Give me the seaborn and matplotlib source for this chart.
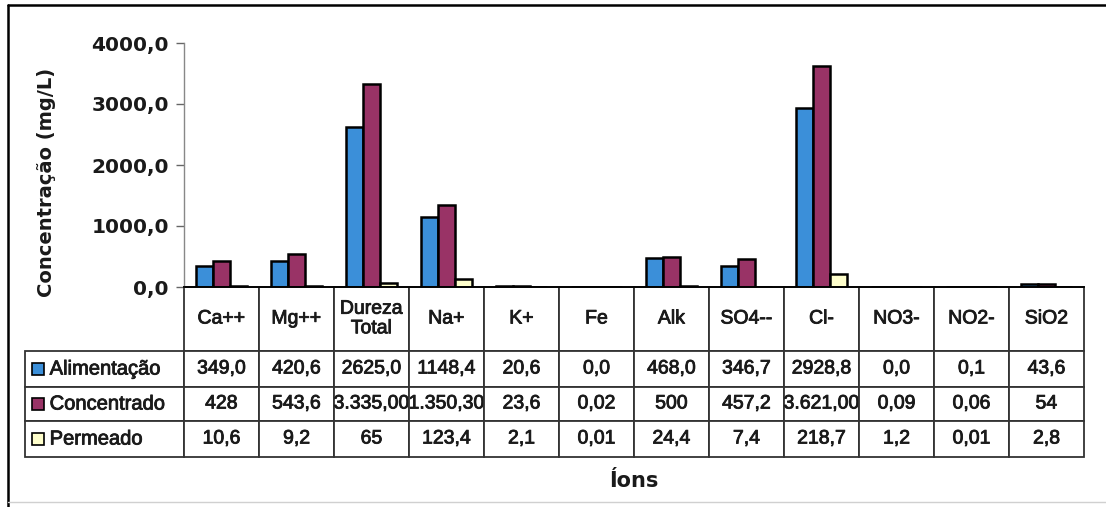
import matplotlib
matplotlib.use("Agg")
import matplotlib.pyplot as plt
import matplotlib.patheffects as pe
import seaborn as sns
import pandas as pd
from matplotlib.table import Table
from matplotlib.patches import Rectangle
from matplotlib.lines import Line2D

# ---------------- data ----------------
categories = ["Ca++", "Mg++", "Dureza\nTotal", "Na+", "K+", "Fe", "Alk",
              "SO4--", "Cl-", "NO3-", "NO2-", "SiO2"]
series = ["Alimentação", "Concentrado", "Permeado"]

alimentacao = [349.0, 420.6, 2625.0, 1148.4, 20.6, 0.0, 468.0, 346.7, 2928.8, 0.0, 0.1, 43.6]
concentrado = [428.0, 543.6, 3335.0, 1350.3, 23.6, 0.02, 500.0, 457.2, 3621.0, 0.09, 0.06, 54.0]
permeado = [10.6, 9.2, 65.0, 123.4, 2.1, 0.01, 24.4, 7.4, 218.7, 1.2, 0.01, 2.8]

alimentacao_txt = ["349,0", "420,6", "2625,0", "1148,4", "20,6", "0,0", "468,0",
                   "346,7", "2928,8", "0,0", "0,1", "43,6"]
concentrado_txt = ["428", "543,6", "3.335,00", "1.350,30", "23,6", "0,02", "500",
                   "457,2", "3.621,00", "0,09", "0,06", "54"]
permeado_txt = ["10,6", "9,2", "65", "123,4", "2,1", "0,01", "24,4", "7,4",
                "218,7", "1,2", "0,01", "2,8"]

yticks = [0, 1000, 2000, 3000, 4000]
ytick_labels = ["0,0", "1000,0", "2000,0", "3000,0", "4000,0"]

colors = ["#3B8FD9", "#993366", "#FFFFCC"]

# ---------------- figure ----------------
sns.set_theme(style="white")
plt.rcParams["font.family"] = ["DejaVu Sans"]

W, H = 1106, 507
fig = plt.figure(figsize=(W / 100, H / 100), dpi=100)
fig.patch.set_facecolor("white")

ax_left, ax_right, ax_top, ax_bottom = 184, 1084, 43, 287
ax_w = ax_right - ax_left
ax_h = ax_bottom - ax_top
ax = fig.add_axes([ax_left / W, 1 - ax_bottom / H, ax_w / W, ax_h / H])

df = pd.DataFrame({
    "Íon": categories * 3,
    "Série": [s for s in series for _ in categories],
    "Valor": alimentacao + concentrado + permeado,
})

sns.barplot(data=df, x="Íon", y="Valor", hue="Série", order=categories,
            hue_order=series, palette=colors, saturation=1, width=0.67,
            edgecolor="black", linewidth=1.8, errorbar=None, legend=False, ax=ax)

ax.set_xlim(-0.5, len(categories) - 0.5)
ax.set_ylim(0, 4000)
ax.set_xticks([])
ax.set_xlabel("")
ax.set_ylabel("")
ax.set_yticks(yticks)
ax.set_yticklabels(ytick_labels, fontfamily="DejaVu Sans", fontweight="bold",
                   fontsize=14.5, color="#1A1A1A")
ax.tick_params(axis="y", left=True, direction="out", length=6, width=1,
               color="#666666", pad=5)
for s in ["top", "right"]:
    ax.spines[s].set_visible(False)
ax.spines["left"].set_color("#888888")
ax.spines["left"].set_linewidth(1.0)
ax.spines["bottom"].set_color("black")
ax.spines["bottom"].set_linewidth(1.3)

# ---------------- data table (sizes in axes units) ----------------
label_w = (ax_left - 25) / ax_w
col_w = 1.0 / len(categories)
row_h = [64 / ax_h, 36 / ax_h, 34 / ax_h, 36 / ax_h]
tot_h = sum(row_h)
tbl = Table(ax, bbox=[0, -tot_h, 1, tot_h])

for j, cat in enumerate(categories):
    tbl.add_cell(0, j, width=col_w, height=row_h[0], text=cat, loc="center")

rows_txt = [alimentacao_txt, concentrado_txt, permeado_txt]
label_cells = []
for i, (lab, txts) in enumerate(zip(series, rows_txt)):
    c = tbl.add_cell(i + 1, -1, width=label_w, height=row_h[i + 1], text=lab, loc="left")
    c.PAD = 0.155
    label_cells.append(c)
    for j, t in enumerate(txts):
        tbl.add_cell(i + 1, j, width=col_w, height=row_h[i + 1], text=t, loc="center")

tbl.auto_set_font_size(False)
tbl.set_fontsize(14)
stroke = [pe.withStroke(linewidth=0.6, foreground="#1A1A1A")]
for key, cell in tbl.get_celld().items():
    cell.set_edgecolor("#333333")
    cell.set_linewidth(1.3)
    txt = cell.get_text()
    txt.set_fontfamily("Liberation Sans")
    txt.set_color("#1A1A1A")
    txt.set_path_effects(stroke)
for c in label_cells:
    c.get_text().set_fontsize(14.5)
ax.add_table(tbl)

# legend keys in the row-label cells
y0 = ax_bottom + 64
row_px = [36, 34, 36]
for i, col in enumerate(colors):
    yc = y0 + sum(row_px[:i]) + row_px[i] / 2
    sq = 12
    fig.add_artist(Rectangle((32 / W, 1 - (yc + sq / 2) / H), sq / W, sq / H,
                             facecolor=col, edgecolor="black", linewidth=1.2,
                             transform=fig.transFigure))

# ---------------- texts ----------------
fig.text(47 / W, 1 - 182 / H, "Concentração (mg/L)", rotation=90, ha="center",
         va="center", fontsize=14, fontweight="bold", color="#1A1A1A",
         fontfamily="DejaVu Sans")
fig.text(634 / W, 1 - 481 / H, "Íons", ha="center", va="center", fontsize=15,
         fontweight="bold", color="#1A1A1A", fontfamily="DejaVu Sans")

# ---------------- outer frame ----------------
fig.add_artist(Line2D([8 / W, 8 / W], [0, 1 - 5 / H], color="black", linewidth=1.8,
                      transform=fig.transFigure))
fig.add_artist(Line2D([8 / W, 1], [1 - 5 / H, 1 - 5 / H], color="black",
                      linewidth=1.8, transform=fig.transFigure))
fig.add_artist(Line2D([8 / W, 1], [1 - 502 / H, 1 - 502 / H], color="#D0D0D0",
                      linewidth=1.0, transform=fig.transFigure))

fig.savefig("out.png", dpi=100)
